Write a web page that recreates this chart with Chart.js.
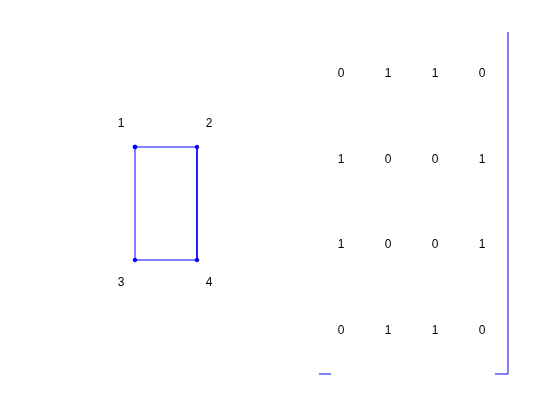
<!DOCTYPE html>
<html>
<head>
<meta charset="utf-8">
<script src="https://cdn.jsdelivr.net/npm/chart.js@4"></script>
<style>
  html, body { margin: 0; padding: 0; background: #fff; }
  #wrap { width: 560px; height: 420px; }
</style>
</head>
<body>
<div id="wrap"><canvas id="c"></canvas></div>
<script>
// graph nodes (plot units = figure pixels)
const nodeLabels = ['1', '2', '3', '4'];
const nodeX = [135, 197, 135, 197];
const nodeY = [147, 147, 260, 260];
const labelX = [121, 209, 121, 209];
const labelY = [124, 124, 283, 283];
const edgeOrder = [0, 1, 3, 2, 0];

// adjacency matrix
const matrix = [
  [0, 1, 1, 0],
  [1, 0, 0, 1],
  [1, 0, 0, 1],
  [0, 1, 1, 0],
];
const colX = [341, 388, 435, 482];
const rowY = [74, 160, 245, 331];

// bracket pieces
const leftBracket = [{ x: 319, y: 374 }, { x: 331, y: 374 }];
const rightBracket = [{ x: 495, y: 374 }, { x: 508, y: 374 }, { x: 508, y: 32 }];

const textPlugin = {
  id: 'texts',
  afterDatasetsDraw(chart) {
    const { ctx, scales: { x, y } } = chart;
    ctx.save();
    ctx.fillStyle = '#000';
    ctx.font = '12px "Liberation Sans", Arial, sans-serif';
    ctx.textAlign = 'center';
    ctx.textBaseline = 'middle';
    nodeLabels.forEach((t, i) => {
      ctx.fillText(t, x.getPixelForValue(labelX[i]), y.getPixelForValue(labelY[i]));
    });
    matrix.forEach((row, r) => {
      row.forEach((v, c) => {
        ctx.fillText(String(v), x.getPixelForValue(colX[c]), y.getPixelForValue(rowY[r]));
      });
    });
    ctx.restore();
  }
};

const lineStyle = { borderColor: '#0000ff', borderWidth: 1, pointRadius: 0, showLine: true, fill: false };

new Chart(document.getElementById('c'), {
  type: 'scatter',
  data: {
    datasets: [
      {
        data: edgeOrder.map(i => ({ x: nodeX[i], y: nodeY[i] })),
        borderColor: '#0000ff',
        backgroundColor: '#0000ff',
        borderWidth: 1,
        pointRadius: 1.8,
        showLine: true,
      },
      { data: leftBracket, ...lineStyle },
      { data: rightBracket, ...lineStyle },
    ],
  },
  options: {
    responsive: true,
    maintainAspectRatio: false,
    animation: false,
    layout: { padding: 0, autoPadding: false },
    scales: {
      x: { type: 'linear', min: 0, max: 560, display: false },
      y: { type: 'linear', min: 0, max: 420, reverse: true, display: false },
    },
    plugins: { legend: { display: false }, tooltip: { enabled: false } },
  },
  plugins: [textPlugin],
});
</script>
</body>
</html>
